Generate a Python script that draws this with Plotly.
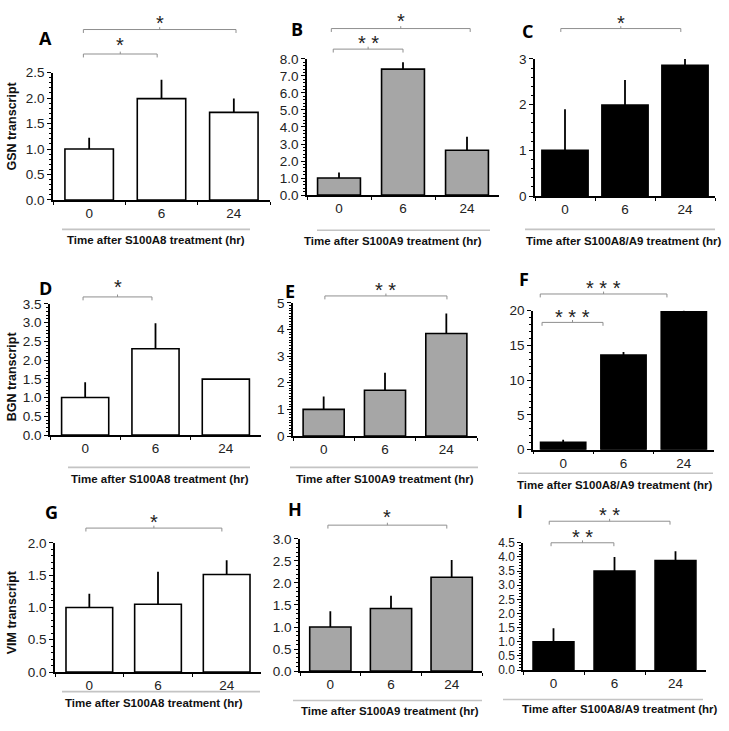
import plotly.graph_objects as go

W, H = 729, 731

categories = ["0", "6", "24"]

gsn_s100a8 = [1.0, 1.99, 1.72]
gsn_s100a8_err = [0.22, 0.37, 0.27]
gsn_s100a9 = [1.0, 7.4, 2.63]
gsn_s100a9_err = [0.33, 0.4, 0.8]
gsn_s100a8a9 = [1.0, 1.99, 2.86]
gsn_s100a8a9_err = [0.9, 0.55, 0.14]

bgn_s100a8 = [1.0, 2.3, 1.49]
bgn_s100a8_err = [0.41, 0.68, 0.0]
bgn_s100a9 = [1.0, 1.72, 3.85]
bgn_s100a9_err = [0.48, 0.65, 0.75]
bgn_s100a8a9 = [1.05, 13.6, 19.85]
bgn_s100a8a9_err = [0.4, 0.45, 0.2]

vim_s100a8 = [1.0, 1.05, 1.51]
vim_s100a8_err = [0.21, 0.5, 0.22]
vim_s100a9 = [1.0, 1.42, 2.13]
vim_s100a9_err = [0.36, 0.29, 0.39]
vim_s100a8a9 = [1.0, 3.5, 3.87]
vim_s100a8a9_err = [0.48, 0.5, 0.33]

panel_letters = ["A", "B", "C", "D", "E", "F", "G", "H", "I"]
gene_titles = ["GSN transcript", "BGN transcript", "VIM transcript"]
treatment_titles = ["Time after S100A8 treatment (hr)",
                    "Time after S100A9 treatment (hr)",
                    "Time after S100A8/A9 treatment (hr)"]

# significance: (from category index, to category index, label)
sig_A = [(0, 2, "*"), (0, 1, "*")]
sig_B = [(0, 2, "*"), (0, 1, "* *")]
sig_C = [(0, 2, "*")]
sig_D = [(0, 1, "*")]
sig_E = [(0, 2, "* *")]
sig_F = [(0, 2, "* * *"), (0, 1, "* * *")]
sig_G = [(0, 2, "*")]
sig_H = [(0, 2, "*")]
sig_I = [(0, 2, "* *"), (0, 1, "* *")]

FILL = {"a8": "white", "a9": "#a6a6a6", "a8a9": "black"}

# layout info per panel (pixel geometry)
panels = [
    dict(vals=gsn_s100a8, err=gsn_s100a8_err, fill=FILL["a8"], ymax=2.5, dtick=0.5, minor=0.1, fmt=".1f", tf=13.5,
         box=(53, 270, 67, 197), bw=0.67, sig=sig_A, sig_px=[(23, 12), (48, 35)], sig_off=[(-0.08, 0.03), (-0.08, -0.06)],
         letter=(46, 32), gline=(62, 250, 227), ttl=(156, 238), ytitle=(12, 122)),
    dict(vals=gsn_s100a9, err=gsn_s100a9_err, fill=FILL["a9"], ymax=8, dtick=1, minor=0.2, fmt=".1f", tf=13.5,
         box=(307, 499, 53, 192), bw=0.67, sig=sig_B, sig_px=[(22, 10), (43, 33)], sig_off=[(-0.12, 0.05), (-0.09, 0.0)],
         letter=(297, 22), gline=(317, 490, 228), ttl=(393, 239), ytitle=None),
    dict(vals=gsn_s100a8a9, err=gsn_s100a8a9_err, fill=FILL["a8a9"], ymax=3, dtick=1, minor=0.2, fmt="d", tf=13.5,
         box=(535, 715, 53, 193), bw=0.77, sig=sig_C, sig_px=[(22, 12)], sig_off=[(-0.07, -0.07)],
         letter=(527, 25), gline=(525, 715, 227), ttl=(624, 239), ytitle=None),
    dict(vals=bgn_s100a8, err=bgn_s100a8_err, fill=FILL["a8"], ymax=3.5, dtick=0.5, minor=0.1, fmt=".1f", tf=13.5,
         box=(50, 261, 303, 437), bw=0.67, sig=sig_D, sig_px=[(296, 282)], sig_off=[(-0.03, -0.05)],
         letter=(46, 287), gline=(68, 250, 470), ttl=(160, 482), ytitle=(12, 377)),
    dict(vals=bgn_s100a9, err=bgn_s100a9_err, fill=FILL["a9"], ymax=5, dtick=1, minor=0.1, fmt="d", tf=13.5,
         box=(293, 477, 302, 438), bw=0.67, sig=sig_E, sig_px=[(295, 285)], sig_off=[(0.02, 0.01)],
         letter=(290, 290), gline=(290, 478, 470), ttl=(385, 482), ytitle=None),
    dict(vals=bgn_s100a8a9, err=bgn_s100a8a9_err, fill=FILL["a8a9"], ymax=20, dtick=5, minor=1, fmt="d", tf=13.5,
         box=(533, 714, 310, 452), bw=0.75, sig=sig_F, sig_px=[(293, 283), (322, 313)], sig_off=[(-0.38, -0.28), (-0.35, -0.34)],
         letter=(524, 278), gline=(518, 713, 476), ttl=(615, 488), ytitle=None),
    dict(vals=vim_s100a8, err=vim_s100a8_err, fill=FILL["a8"], ymax=2, dtick=0.5, minor=0.1, fmt=".1f", tf=13.5,
         box=(55, 261, 547, 679), bw=0.68, sig=sig_G, sig_px=[(532, 522)], sig_off=[(-0.05, -0.07)],
         letter=(51, 516), gline=(62, 260, 699), ttl=(154, 711), ytitle=(12, 618)),
    dict(vals=vim_s100a9, err=vim_s100a9_err, fill=FILL["a9"], ymax=3, dtick=0.5, minor=0.1, fmt=".1f", tf=13.5,
         box=(300, 482, 543, 678), bw=0.68, sig=sig_H, sig_px=[(529, 517)], sig_off=[(-0.04, -0.08)],
         letter=(295, 513), gline=(293, 482, 708), ttl=(390, 719), ytitle=None),
    dict(vals=vim_s100a8a9, err=vim_s100a8a9_err, fill=FILL["a8a9"], ymax=4.5, dtick=0.5, minor=0.1, fmt=".1f", tf=12,
         box=(523, 706, 547, 677), bw=0.67, sig=sig_I, sig_px=[(525, 515), (547, 537)], sig_off=[(-0.07, -0.09), (-0.04, -0.01)],
         letter=(520, 515), gline=(503, 703, 707), ttl=(620, 717), ytitle=None),
]

FONT = "Liberation Sans, Arial, sans-serif"
BRACKET = "#8f8f8f"

fig = go.Figure()
layout = dict(width=W, height=H, margin=dict(l=0, r=0, t=0, b=0, pad=0), autosize=False,
              paper_bgcolor="white", plot_bgcolor="white", showlegend=False,
              font=dict(family=FONT, color="#222"))
shapes, annotations = [], []

def px(x):
    return x / W

def py(y):
    return 1 - y / H

for k, p in enumerate(panels):
    n = "" if k == 0 else str(k + 1)
    xa, ya = "x" + n, "y" + n
    fig.add_trace(go.Bar(
        x=categories, y=p["vals"], xaxis=xa, yaxis=ya, width=p["bw"],
        marker=dict(color=p["fill"], line=dict(color="black", width=1.6)),
        error_y=dict(type="data", array=p["err"], arrayminus=[0, 0, 0], symmetric=False,
                     color="black", thickness=1.8, width=0),
        hoverinfo="skip"))
    l, r, t, b = p["box"]
    layout["xaxis" + n] = dict(domain=[px(l), px(r)], anchor=ya, type="category",
                               range=[-0.5, 2.5], showline=True, linecolor="black", linewidth=1.5,
                               ticks="outside", tickson="boundaries", ticklen=3, tickcolor="black",
                               tickfont=dict(size=13.5, color="#222"), showgrid=False, zeroline=False,
                               fixedrange=True)
    layout["yaxis" + n] = dict(domain=[py(b), py(t)], anchor=xa, range=[0, p["ymax"]],
                               showline=True, linecolor="black", linewidth=1.5,
                               ticks="outside", ticklen=4, tickcolor="black", tickmode="linear",
                               tick0=0, dtick=p["dtick"], tickformat=p["fmt"],
                               minor=dict(ticks="outside", ticklen=2, dtick=p["minor"], tickcolor="black", showgrid=False),
                               tickfont=dict(size=p["tf"], color="#222"), showgrid=False, zeroline=False,
                               fixedrange=True)
    hgt = b - t
    # significance brackets
    for (i, j, lab), (ly, sy), (o0, o1) in zip(p["sig"], p["sig_px"], p["sig_off"]):
        yd = (b - ly) / hgt
        tick = 3.5 / hgt
        x0, x1 = i + o0, j + o1
        xm = (x0 + x1) / 2
        yr = ya + " domain"
        shapes.append(dict(type="line", xref=xa, yref=yr, x0=x0, x1=x1, y0=yd, y1=yd,
                           line=dict(color=BRACKET, width=1)))
        shapes.append(dict(type="line", xref=xa, yref=yr, x0=x0, x1=x0, y0=yd, y1=yd - tick,
                           line=dict(color=BRACKET, width=1)))
        shapes.append(dict(type="line", xref=xa, yref=yr, x0=x1, x1=x1, y0=yd, y1=yd - tick,
                           line=dict(color=BRACKET, width=1)))
        shapes.append(dict(type="line", xref=xa, yref=yr, x0=xm, x1=xm, y0=yd, y1=yd + tick * 0.7,
                           line=dict(color=BRACKET, width=1)))
        annotations.append(dict(text=lab, xref=xa, yref=yr, x=xm, y=(b - sy - 4) / hgt,
                                xanchor="center", yanchor="middle", showarrow=False,
                                font=dict(size=20, color="#222", family=FONT)))
    # panel letter
    lx, lyy = p["letter"]
    annotations.append(dict(text="<b>%s</b>" % panel_letters[k], xref="paper", yref="paper",
                            x=px(lx), y=py(lyy), xanchor="center", yanchor="middle", showarrow=False,
                            font=dict(size=18, color="black", family="Open Sans, Liberation Sans, sans-serif")))
    # grey line and x title
    g0, g1, gy = p["gline"]
    shapes.append(dict(type="line", xref="paper", yref="paper", x0=px(g0), x1=px(g1), y0=py(gy), y1=py(gy),
                       line=dict(color="#c4c4c4", width=1.6)))
    tx, ty = p["ttl"]
    annotations.append(dict(text="<b>%s</b>" % treatment_titles[k % 3], xref="paper", yref="paper",
                            x=px(tx), y=py(ty), xanchor="center", yanchor="middle", showarrow=False,
                            font=dict(size=11.5, color="#111", family=FONT)))
    if p["ytitle"]:
        yx, yy = p["ytitle"]
        annotations.append(dict(text="<b>%s</b>" % gene_titles[k // 3], xref="paper", yref="paper",
                                x=px(yx), y=py(yy), xanchor="center", yanchor="middle", showarrow=False,
                                textangle=-90, font=dict(size=12.5, color="#111", family=FONT)))

layout["shapes"] = shapes
layout["annotations"] = annotations
fig.update_layout(**layout)
fig.write_html("out.html", config={"displayModeBar": False},
               post_script="document.body.style.margin='0';document.body.style.overflow='hidden';")
